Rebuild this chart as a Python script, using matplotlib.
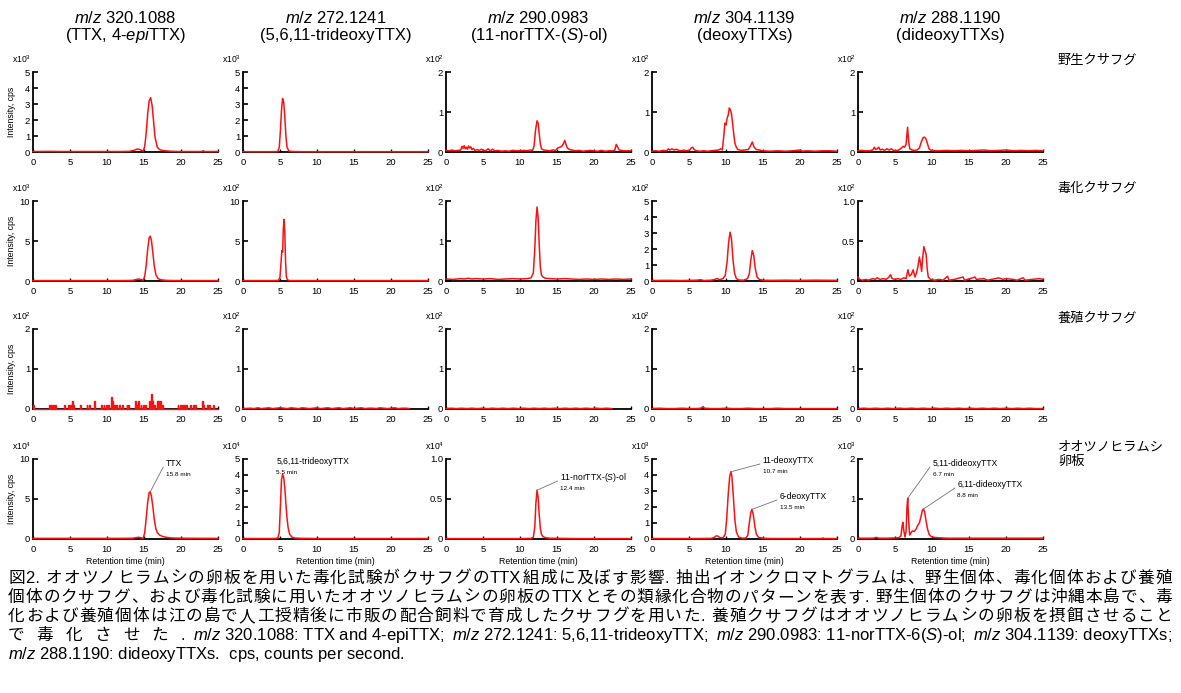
import numpy as np
import matplotlib
matplotlib.use('Agg')
import matplotlib.pyplot as plt
from matplotlib import font_manager as fm
from matplotlib.transforms import IdentityTransform

LAT = 'Liberation Sans'
CJK = 'Noto Sans CJK JP'
plt.rcParams['font.family'] = [LAT, CJK]
plt.rcParams['mathtext.fontset'] = 'custom'
plt.rcParams['mathtext.rm'] = LAT
plt.rcParams['mathtext.it'] = LAT + ':italic'

# ---- chromatogram traces, (retention time [min], intensity in panel units) ----
wild_320 = [(0, .03), (2, .04), (4, .03), (6, .03), (8, .03), (10, .03), (12, .03), (13, .04), (13.6, .10),
            (14.0, .17), (14.3, .18), (14.6, .12), (14.9, .06), (15.1, .35), (15.3, 1.2), (15.5, 2.4),
            (15.7, 3.2), (15.9, 3.4), (16.1, 2.9), (16.3, 1.9), (16.5, .9), (16.8, .3), (17.1, .15),
            (17.5, .1), (18, .07), (18.5, .05), (19, .04), (20, .03), (22, .03), (22.8, .03), (23, .08),
            (23.2, .03), (25, .03)]
wild_272 = [(0, .02), (2, .02), (4, .02), (4.7, .03), (4.9, .3), (5.05, 1.3), (5.2, 2.6), (5.35, 3.35),
            (5.5, 3.1), (5.65, 2.2), (5.8, 1.0), (5.95, .3), (6.2, .06), (6.6, .03), (8, .02), (12, .02),
            (16, .02), (20, .02), (25, .02)]
wild_290 = [(0, .04), (0.4, .03), (0.8, .05), (1.2, .03), (1.6, .04), (2.0, .05), (2.15, .14), (2.3, .09),
            (2.45, .16), (2.6, .08), (2.75, .12), (2.9, .07), (3.05, .15), (3.2, .10), (3.35, .13), (3.5, .06),
            (3.7, .09), (3.9, .04), (4.2, .06), (4.5, .04), (4.8, .07), (5.1, .03), (5.4, .04), (5.7, .08),
            (6.0, .03), (6.3, .07), (6.6, .03), (7, .04), (7.5, .02), (8, .03), (8.5, .02), (9, .04), (9.5, .03),
            (10, .03), (10.5, .04), (11, .03), (11.4, .05), (11.7, .04), (11.9, .15), (12.1, .55), (12.3, .78),
            (12.45, .72), (12.6, .45), (12.75, .2), (12.9, .08), (13.2, .05), (13.6, .04), (14, .03), (14.4, .05),
            (14.8, .04), (15.1, .10), (15.4, .12), (15.7, .15), (15.9, .22), (16.05, .29), (16.2, .2), (16.4, .1),
            (16.7, .06), (17, .05), (17.5, .03), (18, .04), (18.5, .02), (19, .03), (19.5, .04), (20, .03),
            (20.5, .02), (21, .04), (21.5, .02), (22, .03), (22.5, .03), (22.8, .04), (23.0, .19), (23.2, .12),
            (23.4, .05), (24, .03), (25, .03)]
wild_304 = [(0, .02), (0.5, .03), (1, .02), (1.5, .04), (2, .03), (2.2, .08), (2.4, .05), (2.7, .08), (3, .05),
            (3.3, .07), (3.6, .04), (4, .03), (4.3, .05), (4.6, .03), (5, .04), (5.3, .10), (5.5, .12), (5.7, .06),
            (6, .03), (6.5, .02), (7, .03), (7.5, .02), (8, .03), (8.5, .04), (9, .05), (9.3, .08), (9.5, .05),
            (9.7, .40), (9.85, .72), (10.0, .68), (10.15, .85), (10.3, .92), (10.45, 1.1), (10.6, 1.05),
            (10.75, .95), (10.9, .7), (11.05, .45), (11.2, .22), (11.4, .12), (11.6, .06), (12, .04), (12.5, .05),
            (13, .06), (13.3, .15), (13.55, .25), (13.8, .12), (14.1, .06), (14.5, .05), (15, .03), (16, .02),
            (17, .03), (18, .02), (19, .03), (20, .05), (20.3, .02), (21, .03), (22, .02), (23, .03), (24, .03),
            (25, .02)]
wild_288 = [(0, .03), (0.5, .04), (1, .03), (1.5, .03), (2, .05), (2.2, .12), (2.4, .06), (2.6, .08), (2.8, .12),
            (3, .05), (3.3, .07), (3.6, .04), (3.9, .08), (4.2, .05), (4.5, .08), (4.8, .04), (5.1, .03), (5.5, .05),
            (5.8, .09), (6.1, .14), (6.3, .12), (6.5, .20), (6.7, .62), (6.85, .25), (7.0, .08), (7.3, .05),
            (7.6, .04), (8, .05), (8.3, .10), (8.55, .25), (8.8, .36), (9.0, .37), (9.2, .32), (9.4, .2), (9.6, .08),
            (9.9, .04), (10.5, .03), (11, .03), (12, .04), (13, .03), (14, .04), (15, .03), (16, .04), (17, .05),
            (18, .03), (19, .04), (20, .05), (21, .03), (22, .04), (23, .03), (24, .04), (25, .03)]

tox_320 = [(0, .05), (3, .05), (6, .05), (9, .05), (12, .05), (13.5, .08), (14.0, .2), (14.3, .25), (14.6, .18),
           (14.9, .1), (15.1, .6), (15.3, 2.0), (15.5, 4.0), (15.7, 5.4), (15.85, 5.6), (16.0, 5.1), (16.2, 3.5),
           (16.4, 1.8), (16.6, .8), (16.9, .3), (17.3, .15), (18, .08), (19, .06), (21, .05), (23, .05), (25, .05)]
tox_272 = [(0, .05), (2, .05), (4, .05), (4.8, .08), (5.0, .5), (5.15, 2.5), (5.25, 3.8), (5.35, 3.6), (5.45, 6.5),
           (5.55, 7.7), (5.65, 6.0), (5.75, 2.5), (5.85, .6), (6.0, .15), (6.3, .05), (9, .05), (14, .05),
           (19, .05), (25, .05)]
tox_290 = [(0, .05), (1, .04), (2, .06), (2.5, .05), (3, .07), (3.5, .05), (4, .06), (5, .05), (6, .06), (7, .04),
           (8, .05), (9, .06), (10, .05), (11, .06), (11.5, .08), (11.8, .2), (12.0, .8), (12.15, 1.5), (12.3, 1.85),
           (12.45, 1.6), (12.6, .9), (12.75, .35), (12.9, .15), (13.1, .1), (13.4, .07), (14, .06), (15, .05),
           (16, .06), (17, .05), (18, .04), (19, .05), (20, .04), (21, .05), (22, .04), (23, .05), (24, .04),
           (25, .05)]
tox_304 = [(0, .03), (2, .04), (4, .03), (6, .05), (6.6, .08), (7, .03), (8, .05), (8.5, .1), (8.8, .16), (9.1, .08),
           (9.6, .15), (9.9, .35), (10.15, 1.2), (10.35, 2.4), (10.55, 3.05), (10.75, 2.6), (10.95, 1.3),
           (11.15, .5), (11.4, .15), (11.8, .06), (12.4, .05), (12.9, .15), (13.15, .45), (13.35, 1.3),
           (13.55, 1.9), (13.75, 1.6), (13.95, .8), (14.2, .25), (14.5, .1), (15, .05), (16, .04), (18, .05),
           (20, .04), (22, .05), (25, .04)]
tox_288 = [(0, .05), (0.2, .02), (0.6, .01), (1, .02), (1.4, .01), (2, .03), (2.3, .02), (2.6, .04), (3, .02),
           (3.4, .03), (3.8, .02), (4.2, .05), (4.4, .08), (4.6, .03), (5, .02), (5.4, .03), (5.8, .02), (6.2, .04),
           (6.5, .03), (6.75, .14), (6.95, .06), (7.2, .08), (7.45, .14), (7.7, .05), (7.9, .1), (8.1, .18),
           (8.3, .3), (8.45, .22), (8.6, .12), (8.75, .3), (8.9, .43), (9.05, .38), (9.2, .34), (9.35, .15),
           (9.5, .05), (9.8, .02), (10.3, .01), (11, .02), (11.5, .01), (12.1, .06), (12.3, .01), (13, .02),
           (14.2, .05), (14.4, .01), (15.5, .04), (15.8, .05), (16, .02), (17, .03), (17.5, .01), (18, .02),
           (18.6, .03), (19, .04), (19.3, .03), (19.6, .02), (20, .03), (21, .02), (21.5, .01), (22.3, .04),
           (22.6, .01), (23.5, .02), (24.5, .03), (25, .02)]

# cultured fish m/z 320: quantised single-scan spikes (time, height)
cult_320 = [(0.1, .1), (2.2, .1), (2.5, .1), (2.8, .1), (3.1, .1), (4.3, .1), (4.8, .1), (5.1, .1), (5.3, .2),
            (5.5, .1), (6.4, .1), (7.3, .1), (7.6, .1), (8.3, .2), (9.3, .1), (9.6, .1), (9.9, .1), (10.2, .1),
            (10.55, .3), (10.75, .2), (11.0, .1), (11.3, .1), (11.7, .1), (12.1, .1), (12.7, .1), (12.9, .1),
            (13.8, .2), (14.0, .1), (14.2, .2), (14.6, .1), (14.9, .1), (15.2, .1), (15.8, .2), (16.0, .38),
            (16.15, .2), (16.4, .1), (16.8, .2), (17.0, .2), (17.2, .2), (17.45, .1), (19.6, .1), (19.9, .1),
            (20.2, .1), (20.5, .1), (20.8, .1), (21.3, .1), (21.7, .1), (22.0, .1), (22.9, .2), (23.1, .1),
            (23.6, .1), (23.9, .1), (24.4, .1)]
cult_272 = [(0, .01), (1, .02), (1.5, .01), (2, .03), (2.5, .01), (3, .02), (3.5, .03), (4, .01), (4.5, .02),
            (5, .03), (5.5, .02), (6, .01), (6.5, .03), (7, .02), (7.5, .01), (8, .03), (8.5, .02), (9, .01),
            (9.5, .02), (10, .03), (10.5, .01), (11, .02), (11.5, .03), (12, .01), (12.5, .02), (13, .03),
            (13.5, .01), (14, .02), (14.5, .03), (15, .01), (15.5, .02), (16, .03), (16.5, .01), (17, .02),
            (17.5, .02), (18, .01), (18.5, .03), (19, .02), (19.5, .01), (20, .02), (20.5, .03), (21, .01),
            (21.5, .02), (22, .02), (22.5, .01)]
cult_290 = [(0, .01), (0.7, .02), (1.4, .01), (2.1, .02), (2.8, .01), (3.5, .02), (4.2, .01), (4.9, .02),
            (5.6, .01), (6.3, .02), (7, .01), (7.7, .02), (8.4, .01), (9.1, .02), (9.8, .01), (10.5, .02),
            (11.2, .01), (11.9, .02), (12.6, .01), (13.3, .02), (14, .01), (14.7, .02), (15.4, .01), (16.1, .02),
            (16.8, .01), (17.5, .02), (18.2, .01), (18.9, .02), (19.6, .01), (20.3, .02), (21, .01), (21.7, .02),
            (22.4, .01)]
cult_304 = [(0, .01), (1, .02), (2, .01), (3, .01), (4, .02), (5, .01), (6, .01), (6.6, .02), (6.9, .06), (7.1, .02),
            (8, .01), (9, .01), (10, .02), (11, .01), (12, .01), (13, .02), (14, .01), (15, .01), (16, .01),
            (17, .02), (18, .01), (19, .01), (20, .01), (21, .01), (22, .01), (23, .01), (24, .01), (25, .01)]
cult_288 = [(0, .01), (0.8, .02), (1.6, .01), (2.4, .02), (3.2, .01), (4, .02), (4.8, .01), (5.6, .02), (6.4, .01),
            (7.2, .02), (8, .01), (8.8, .02), (9.6, .01), (10.4, .02), (11.2, .01), (12, .02), (12.8, .01),
            (13.6, .02), (14.4, .01), (15.2, .02), (16, .01), (16.8, .02), (17.6, .01), (18.4, .02), (19.2, .01),
            (20, .02), (20.8, .01), (21.6, .02), (22.4, .01), (23.2, .02), (24, .01), (25, .01)]

egg_320 = [(0, .08), (3, .08), (6, .08), (9, .08), (12, .08), (13.5, .1), (14.0, .18), (14.3, .22), (14.6, .15),
           (14.9, .1), (15.1, .8), (15.3, 2.6), (15.5, 4.6), (15.7, 5.8), (15.85, 5.9), (16.0, 5.4), (16.2, 4.0),
           (16.4, 2.4), (16.6, 1.3), (16.8, .8), (17.1, .5), (17.5, .32), (18, .22), (18.5, .15), (19, .12),
           (20, .1), (21, .09), (23, .08), (25, .08)]
egg_272 = [(0, .03), (2, .03), (4, .03), (4.7, .05), (4.9, .4), (5.05, 2.0), (5.2, 3.7), (5.35, 4.05), (5.5, 3.85),
           (5.65, 3.2), (5.8, 2.2), (5.95, 1.3), (6.1, .7), (6.3, .3), (6.6, .12), (7, .06), (8, .04), (10, .03),
           (15, .03), (20, .03), (25, .03)]
egg_290 = [(0, .005), (5, .005), (10, .005), (11.5, .008), (11.8, .02), (12.0, .15), (12.15, .45), (12.3, .61),
           (12.45, .52), (12.6, .3), (12.75, .13), (12.9, .06), (13.1, .03), (13.5, .015), (14, .01), (15, .008),
           (18, .005), (22, .005), (25, .005)]
egg_304 = [(0, .03), (3, .03), (6, .03), (8, .04), (8.4, .1), (8.7, .2), (8.9, .18), (9.2, .08), (9.6, .08),
           (9.9, .3), (10.1, 1.3), (10.3, 2.8), (10.5, 3.9), (10.65, 4.2), (10.8, 3.9), (11.0, 2.6), (11.2, 1.2),
           (11.4, .45), (11.7, .12), (12.2, .05), (12.7, .06), (12.95, .25), (13.15, 1.0), (13.35, 1.65),
           (13.5, 1.85), (13.7, 1.5), (13.9, .8), (14.1, .3), (14.4, .1), (15, .05), (16, .03), (20, .03),
           (22.9, .03), (23.1, .06), (23.3, .03), (25, .03)]
egg_288 = [(0, .02), (2, .02), (2.5, .04), (2.8, .02), (4, .02), (5.5, .03), (5.8, .08), (5.95, .3), (6.05, .42),
           (6.2, .2), (6.35, .05), (6.5, .2), (6.62, .8), (6.72, 1.02), (6.85, .45), (6.98, .1), (7.15, .15),
           (7.35, .2), (7.6, .19), (7.85, .25), (8.1, .35), (8.3, .4), (8.5, .55), (8.7, .72), (8.85, .75),
           (9.0, .68), (9.2, .45), (9.4, .25), (9.6, .12), (9.9, .06), (10.3, .04), (11, .03), (12, .02), (15, .02),
           (20, .02), (25, .02)]

panels = [
    [wild_320, wild_272, wild_290, wild_304, wild_288],
    [tox_320, tox_272, tox_290, tox_304, tox_288],
    [cult_320, cult_272, cult_290, cult_304, cult_288],
    [egg_320, egg_272, egg_290, egg_304, egg_288],
]
exponents = [[3, 3, 2, 2, 2], [3, 2, 2, 2, 2], [2, 2, 2, 2, 2], [4, 4, 4, 3, 3]]
y_tops = [[5, 5, 2, 2, 2], [10, 10, 2, 5, 1.0], [2, 2, 2, 2, 2], [10, 5, 1.0, 5, 2]]
tick_step = {5: 1, 10: 5, 2: 1, 1.0: 0.5}

mz_labels = ['320.1088', '272.1241', '290.0983', '304.1139', '288.1190']
compound_labels = ['(TTX, 4-$\\mathit{epi}$TTX)', '(5,6,11-trideoxyTTX)', '(11-norTTX-($\\mathit{S}$)-ol)',
                   '(deoxyTTXs)', '(dideoxyTTXs)']
row_labels = ['野生クサフグ', '毒化クサフグ', '養殖クサフグ', 'オオツノヒラムシ\n卵板']

# peak labels on the egg-plate row: (peak time, name, retention label)
peak_labels = {
    0: [(15.8, 'TTX', '15.8 min')],
    1: [(5.4, '5,6,11-trideoxyTTX', '5.5 min')],
    2: [(12.3, '11-norTTX-($\\mathit{S}$)-ol', '12.4 min')],
    3: [(10.65, '11-deoxyTTX', '10.7 min'), (13.5, '6-deoxyTTX', '13.5 min')],
    4: [(6.72, '5,11-dideoxyTTX', '6.7 min'), (8.85, '6,11-dideoxyTTX', '8.8 min')],
}
# leader line end (data coords), text x-offset in px, whether a leader is drawn
leader_ends = {0: [(17.6, 9.0, 2.5, True)], 1: [(5.45, 4.65, -7, False)], 2: [(15.1, 0.725, 2.5, True)],
               3: [(14.6, 4.69, 2.5, True), (16.9, 2.44, 2.5, True)],
               4: [(9.73, 1.8, 2.5, True), (13.1, 1.275, 2.5, True)]}

caption_cjk = [
    '図2. オオツノヒラムシの卵板を用いた毒化試験がクサフグのTTX組成に及ぼす影響. 抽出イオンクロマトグラムは、野生個体、毒化個体および養殖',
    '個体のクサフグ、および毒化試験に用いたオオツノヒラムシの卵板のTTXとその類縁化合物のパターンを表す. 野生個体のクサフグは沖縄本島で、毒',
    '化および養殖個体は江の島で人工授精後に市販の配合飼料で育成したクサフグを用いた. 養殖クサフグはオオツノヒラムシの卵板を摂餌させること',
    'で毒化させた.',
]
caption_mz = ['$\\mathit{m/z}$ 320.1088: TTX and 4-epiTTX;', '$\\mathit{m/z}$ 272.1241: 5,6,11-trideoxyTTX;',
              '$\\mathit{m/z}$ 290.0983: 11-norTTX-6($\\mathit{S}$)-ol;', '$\\mathit{m/z}$ 304.1139: deoxyTTXs;']
caption_last = '$\\mathit{m/z}$ 288.1190: dideoxyTTXs.  cps, counts per second.'

W, H = 1181, 693
RED = '#ff1010'
fig = plt.figure(figsize=(W / 100, H / 100), dpi=100)
ID = IdentityTransform()
renderer = fig.canvas.get_renderer()

_fonts = {}


def is_cjk(ch):
    return ord(ch) > 0x2e7f


def advance(s, size):
    total = 0.0
    for ch in s:
        key = is_cjk(ch)
        if key not in _fonts:
            _fonts[key] = fm.get_font(fm.findfont(fm.FontProperties(family=CJK if key else LAT)), hinting_factor=1)
        f = _fonts[key]
        f.set_size(size, 100)
        total += f.load_char(ord(ch)).linearHoriAdvance / 65536
    return total


def cjk_line(x, y, s, size, width=None):
    """CJK text set character by character (x, y: image pixels, baseline)"""
    items = []
    buf = ''
    for ch in s:
        if is_cjk(ch):
            if buf:
                items.append(buf)
                buf = ''
            items.append(ch)
        else:
            buf += ch
    if buf:
        items.append(buf)
    adv = [advance(s_, size) for s_ in items]
    gap = 0.0
    if width is not None and len(items) > 1:
        gap = (width - sum(adv)) / (len(items) - 1)
    for s_, a in zip(items, adv):
        fig.text(x, H - y, s_, transform=ID, fontsize=size, family=CJK if is_cjk(s_[0]) else LAT,
                 va='baseline', ha='left')
        x += a + gap


col_left = [33, 243, 446, 652, 858]
row_top = [72, 201, 329, 459]
AW, AH = 185, 80
XMAX = 25

for r in range(4):
    for c in range(5):
        ax = fig.add_axes([col_left[c] / W, 1 - (row_top[r] + AH) / H, AW / W, AH / H])
        top = y_tops[r][c]
        d = np.array(panels[r][c], dtype=float)
        if r == 2 and c == 0:
            w = 0.12
            xs, ys = [0], [0]
            for t, h in d:
                xs += [t - w / 2, t - w / 2, t + w / 2, t + w / 2]
                ys += [0, h, h, 0]
            xs.append(XMAX)
            ys.append(0)
            ax.plot(xs, ys, color=RED, lw=1.0, zorder=3, clip_on=False)
        else:
            ax.plot(d[:, 0], d[:, 1], color=RED, lw=1.1, zorder=3, solid_joinstyle='round', clip_on=False)
        ax.set_xlim(0, XMAX)
        ax.set_ylim(0, top)
        ax.set_xticks(range(0, XMAX + 1, 5))
        st = tick_step[top]
        ax.set_yticks(np.arange(0, top + st / 2, st))
        ax.yaxis.set_major_formatter(
            plt.FuncFormatter(lambda v, p, top=top: '0' if v == 0 else ('%.1f' % v if top < 2 else '%d' % v)))
        for s in ['top', 'right']:
            ax.spines[s].set_visible(False)
        for s in ['left', 'bottom']:
            ax.spines[s].set_linewidth(1.3)
        ax.tick_params(axis='y', direction='in', length=3.5, width=1.2, labelsize=6.8, pad=2)
        ax.tick_params(axis='x', direction='in', length=2.5, width=1.0, labelsize=6.8, pad=4)
        ax.patch.set_visible(False)
        ax.text(-2 / AW, 1 + 9 / AH, 'x10$^{%d}$' % exponents[r][c], transform=ax.transAxes,
                ha='right', va='baseline', fontsize=6.2)
        if c == 0:
            ax.text((12 - 33) / AW, 0.5, 'Intensity, cps', transform=ax.transAxes, rotation=90,
                    ha='center', va='center', fontsize=6.3)
        if r == 3:
            ax.text(0.5, -(562 - 539) / AH, 'Retention time (min)', transform=ax.transAxes,
                    ha='center', va='center', fontsize=6.3)
            for (pt, name, rt), (ex, ey, dx, leader) in zip(peak_labels[c], leader_ends[c]):
                near = np.abs(d[:, 0] - pt) <= 0.3
                k = np.argmax(np.where(near, d[:, 1], -1))
                if leader:
                    ax.annotate('', xy=(d[k, 0], d[k, 1]), xytext=(ex, ey),
                                arrowprops=dict(arrowstyle='-', color='0.45', lw=0.6, shrinkA=0, shrinkB=0))
                px, py = ax.transData.transform((ex, ey))
                fig.text(px + dx, py + 1, name, transform=ID, fontsize=6.2, va='baseline', ha='left')
                fig.text(px + dx, py - 9, rt, transform=ID, fontsize=4.6, va='baseline', ha='left')

# column headers
for c in range(5):
    cx = col_left[c] + AW / 2
    fig.text(cx, H - 23, '$\\mathit{m/z}$ ' + mz_labels[c], transform=ID, fontsize=12, ha='center', va='baseline')
    fig.text(cx, H - 40, compound_labels[c], transform=ID, fontsize=12, ha='center', va='baseline')

# row labels
row_label_y = [60, 188, 318, 454]
for r in range(4):
    fig.text(1058, H - row_label_y[r], row_labels[r], transform=ID, fontsize=9.5, family=CJK,
             ha='left', va='center', linespacing=1.15)

# caption (justified to the right edge at x = 1172)
CAP_L, CAP_R = 8, 1172
cap_base = [583, 602, 621, 640, 659]
for i in range(3):
    cjk_line(CAP_L, cap_base[i], caption_cjk[i], 12, width=CAP_R - CAP_L)
segs = [fig.text(0, H - cap_base[3], s, transform=ID, fontsize=12, ha='left', va='baseline') for s in caption_mz]
widths = [t.get_window_extent(renderer).width for t in segs]
sep = 7.5
x = CAP_R - sum(widths) - sep * (len(segs) - 1)
cjk_line(CAP_L, cap_base[3], caption_cjk[3], 12, width=x - sep - CAP_L)
for t, w in zip(segs, widths):
    t.set_x(x)
    x += w + sep
fig.text(CAP_L, H - cap_base[4], caption_last, transform=ID, fontsize=12, ha='left', va='baseline')

fig.savefig('out.png', dpi=100)
